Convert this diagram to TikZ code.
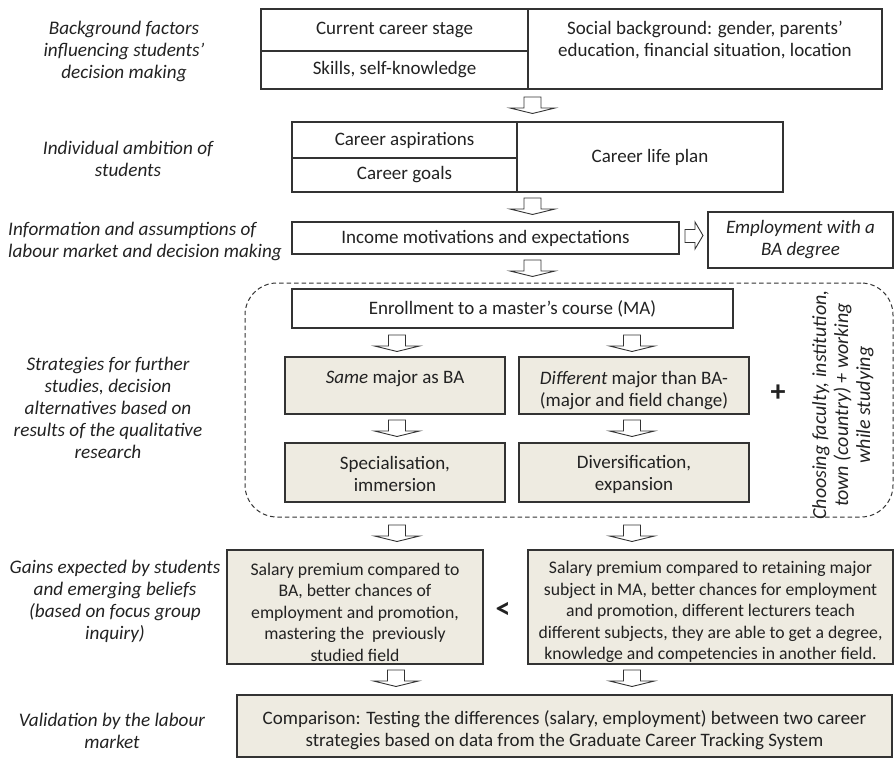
\documentclass[tikz,border=0pt]{standalone}
\usepackage{fontspec}
\setmainfont{Carlito}
\usetikzlibrary{calc}
\definecolor{boxfill}{HTML}{EEEBE1}
\definecolor{linec}{HTML}{333333}
\definecolor{txtc}{HTML}{222222}
\newcommand\mybox[7]{\node[#2, minimum width={(#5-#3)*1pt}, minimum height={(#6-#4)*1pt}] (#1) at ({(#3+#5)/2},{(#4+#6)/2}) {#7};}
\tikzset{
  arr/.style={draw=linec, line width=0.9pt, fill=white, line join=miter},
  darrow/.pic={\draw[arr] (-8.5,0) -- (8.5,0) -- (8.5,11) -- (22.5,11) -- (0,16.5) -- (-22.5,11) -- (-8.5,11) -- cycle;},
}
\begin{document}
\begin{tikzpicture}[x=1pt,y=-1pt,
  every node/.style={font=\fontsize{19}{22}\selectfont, text=txtc},
  box/.style={draw=linec, line width=1.1pt, rectangle, inner sep=0pt, align=center, fill=white},
  fbox/.style={box, fill=boxfill},
  lbl/.style={font=\fontsize{19.2}{22}\selectfont\itshape, align=center, inner sep=0pt},
  txt/.style={align=center, inner sep=0pt},
  small/.style={font=\fontsize{17.7}{21.5}\selectfont},
  dashbox/.style={draw=linec, line width=1pt, dash pattern=on 4.5pt off 3pt, rounded corners=32pt, inner sep=0pt},
  sym/.style={font=\fontsize{30}{30}\selectfont\bfseries, inner sep=0pt},
]
\useasboundingbox (0,0) rectangle (895,760);

% left labels
\node[lbl] (l1) at (124,51) {Background factors\\influencing students'\\decision making};
\node[lbl] (l2) at (128,158.5) {Individual ambition of\\students};
\node[lbl, align=left, anchor=west] (l3) at (8,241) {Information and assumptions of\\labour market and decision making};
\node[lbl] (l4) at (108,408) {Strategies for further\\studies, decision\\alternatives based on\\results of the qualitative\\research};
\node[lbl] (l5) at (115,601.5) {Gains expected by students\\and emerging beliefs\\(based on focus group\\inquiry)};
\node[lbl] (l6) at (112,731) {Validation by the labour\\market};

% top block
\mybox{stage}{box}{261}{9}{528}{51}{Current career stage}
\mybox{skills}{box}{261}{51}{528}{89}{Skills, self-knowledge}
\mybox{social}{box}{528}{9}{882}{89}{}
\node[txt] (socialtxt) at (705,40.5) {Social background: gender, parents'\\education, financial situation, location};
\pic at (532.5,97) {darrow};

% ambition block
\mybox{asp}{box}{292}{122}{517}{158}{Career aspirations}
\mybox{goals}{box}{292}{158}{517}{192}{Career goals}
\mybox{plan}{box}{517}{122}{783}{192}{Career life plan}
\pic at (532.5,198) {darrow};

% income
\mybox{income}{box}{292}{222}{679}{254}{Income motivations and expectations}
\draw[arr] (685,229.5) -- (695,229.5) -- (695,222) -- (703,235.5) -- (695,249) -- (695,242.5) -- (685,242.5) -- cycle;
\node[box, minimum width=185pt, minimum height=56pt, font=\fontsize{19}{22}\selectfont\itshape] (employ) at (800.5,240) {Employment with a\\BA degree};
\pic at (532.5,260) {darrow};

% strategies
\node[dashbox, minimum width=648pt, minimum height=234pt] (strat) at (569,400) {};
\mybox{enroll}{box}{292}{289}{733}{328}{Enrollment to a master's course (MA)}
\pic at (397,335) {darrow};
\pic at (632,335) {darrow};
\mybox{same}{fbox}{285}{357}{505}{414}{}
\node[txt] (sametxt) at (395,379) {\textit{Same} major as BA};
\mybox{diff}{fbox}{519}{357}{749}{414}{}
\node[txt] (difftxt) at (634,390.5) {\textit{Different} major than BA-\\(major and field change)};
\pic at (397,420) {darrow};
\pic at (632,420) {darrow};
\mybox{spec}{fbox}{285}{443}{505}{502}{}
\node[txt] (spectxt) at (395,474) {Specialisation,\\immersion};
\mybox{divers}{fbox}{519}{443}{749}{502}{}
\node[txt] (diverstxt) at (634,474) {Diversification,\\expansion};
\node[sym] (plus) at (778,393) {+};
\node[lbl, rotate=90, font=\fontsize{20}{22}\selectfont\itshape] (choose) at (843,405) {Choosing faculty, institution,\\town (country) + working\\while studying};
\pic at (397,525) {darrow};
\pic at (632,525) {darrow};

% gains
\mybox{gainL}{fbox}{227}{550}{483}{664}{}
\node[txt, small] (gainLtxt) at (355,612) {Salary premium compared to\\BA, better chances of\\employment and promotion,\\mastering the~ previously\\studied field};
\node[sym] (lt) at (503,610) {<};
\mybox{gainR}{fbox}{528}{550}{893}{664}{}
\node[txt, small] (gainRtxt) at (710.5,612) {Salary premium compared to retaining major\\subject in MA, better chances for employment\\and promotion, different lecturers teach\\different subjects, they are able to get a degree,\\knowledge and competencies in another field.};
\pic at (396,670) {darrow};
\pic at (632,670) {darrow};

% validation
\mybox{comp}{fbox}{237}{695}{892}{757}{}
\node[txt] (comptxt) at (564.5,730) {Comparison: Testing the differences (salary, employment) between two career\\strategies based on data from the Graduate Career Tracking System};
\end{tikzpicture}
\end{document}
